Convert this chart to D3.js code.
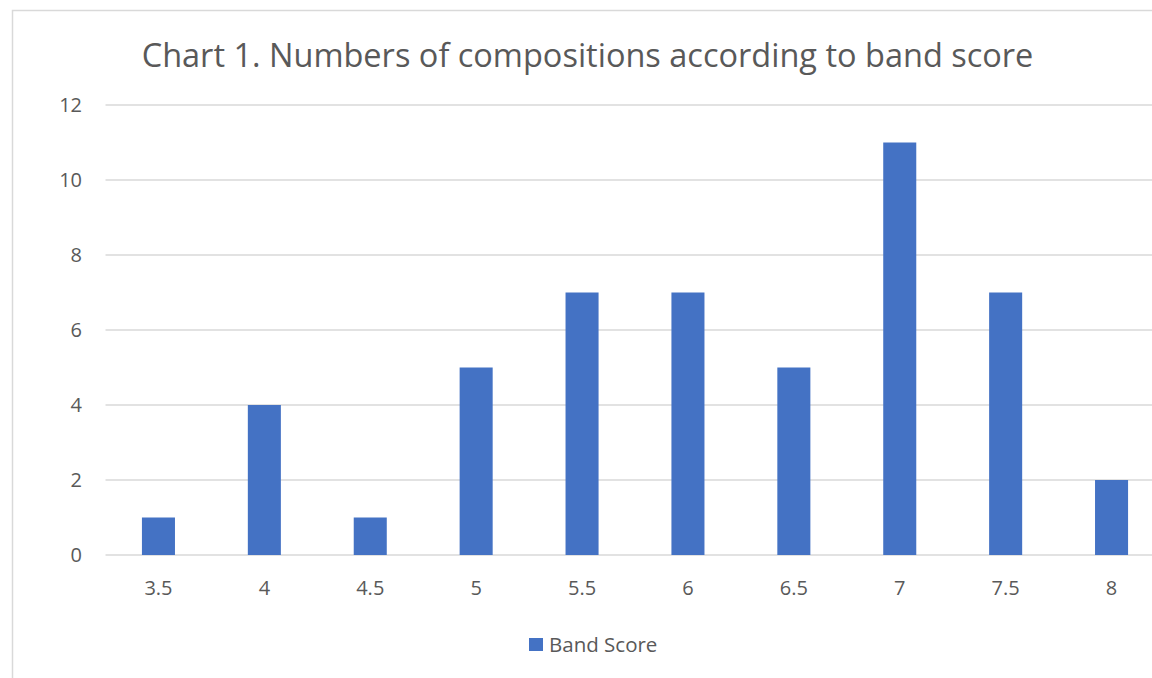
<!DOCTYPE html>
<html>
<head>
<meta charset="utf-8">
<script src="https://cdn.jsdelivr.net/npm/d3@7"></script>
<style>
  body { margin: 0; background: #fff; overflow: hidden; }
  text { font-family: "Open Sans", sans-serif; fill: #595959; }
</style>
</head>
<body>
<div id="chart"></div>
<script>
var categories = ['3.5', '4', '4.5', '5', '5.5', '6', '6.5', '7', '7.5', '8'];
var values = [1, 4, 1, 5, 7, 7, 5, 11, 7, 2];
var yTicks = [0, 2, 4, 6, 8, 10, 12];
var title = 'Chart 1. Numbers of compositions according to band score';
var seriesName = 'Band Score';

var width = 1152, height = 678;
var plot = {left: 105.5, right: 1164.5, top: 105, bottom: 555};

var svg = d3.select('#chart')
    .append('svg')
    .attr('width', width)
    .attr('height', height);

// chart frame, runs off right and bottom like the reference
svg.append('rect')
    .attr('x', 12.5).attr('y', 10.5)
    .attr('width', 1200).attr('height', 700)
    .attr('fill', 'none')
    .attr('stroke', '#d9d9d9')
    .attr('stroke-width', 1.5);

var xScale = d3.scaleBand()
    .domain(categories)
    .range([plot.left, plot.right])
    .paddingInner(0.688)
    .paddingOuter(0.344);

var yScale = d3.scaleLinear()
    .domain([0, 12])
    .range([plot.bottom, plot.top]);

// gridlines
svg.append('g')
    .selectAll('line')
    .data(yTicks)
    .enter()
    .append('line')
    .attr('x1', plot.left)
    .attr('x2', plot.right)
    .attr('y1', function(d) { return yScale(d) })
    .attr('y2', function(d) { return yScale(d) })
    .attr('stroke', '#d9d9d9')
    .attr('stroke-width', 1.5);

// y axis labels
var yAxis = d3.axisLeft(yScale).tickValues(yTicks).tickSize(0).tickPadding(0);
var gy = svg.append('g')
    .attr('transform', 'translate(82,0)')
    .call(yAxis);
gy.select('.domain').remove();
gy.selectAll('text')
    .style('font-size', '20px')
    .attr('fill', '#595959');

// bars
svg.append('g')
    .selectAll('rect')
    .data(values)
    .enter()
    .append('rect')
    .attr('x', function(d, i) { return xScale(categories[i]) })
    .attr('y', function(d) { return yScale(d) })
    .attr('width', xScale.bandwidth())
    .attr('height', function(d) { return yScale(0) - yScale(d) })
    .attr('fill', '#4472c4');

// x axis labels
var xAxis = d3.axisBottom(xScale).tickSize(0).tickPadding(0);
var gx = svg.append('g')
    .attr('transform', 'translate(0,' + (plot.bottom + 26) + ')')
    .call(xAxis);
gx.select('.domain').remove();
gx.selectAll('text')
    .style('font-size', '20px')
    .attr('fill', '#595959');

// title
svg.append('text')
    .attr('x', 587.5)
    .attr('y', 67)
    .attr('text-anchor', 'middle')
    .style('font-size', '32.5px')
    .text(title);

// legend
var legend = svg.append('g').attr('transform', 'translate(529,638)');
legend.append('rect')
    .attr('width', 14).attr('height', 13)
    .attr('fill', '#4472c4');
legend.append('text')
    .attr('x', 20)
    .attr('y', 14)
    .style('font-size', '20.5px')
    .text(seriesName);
</script>
</body>
</html>
